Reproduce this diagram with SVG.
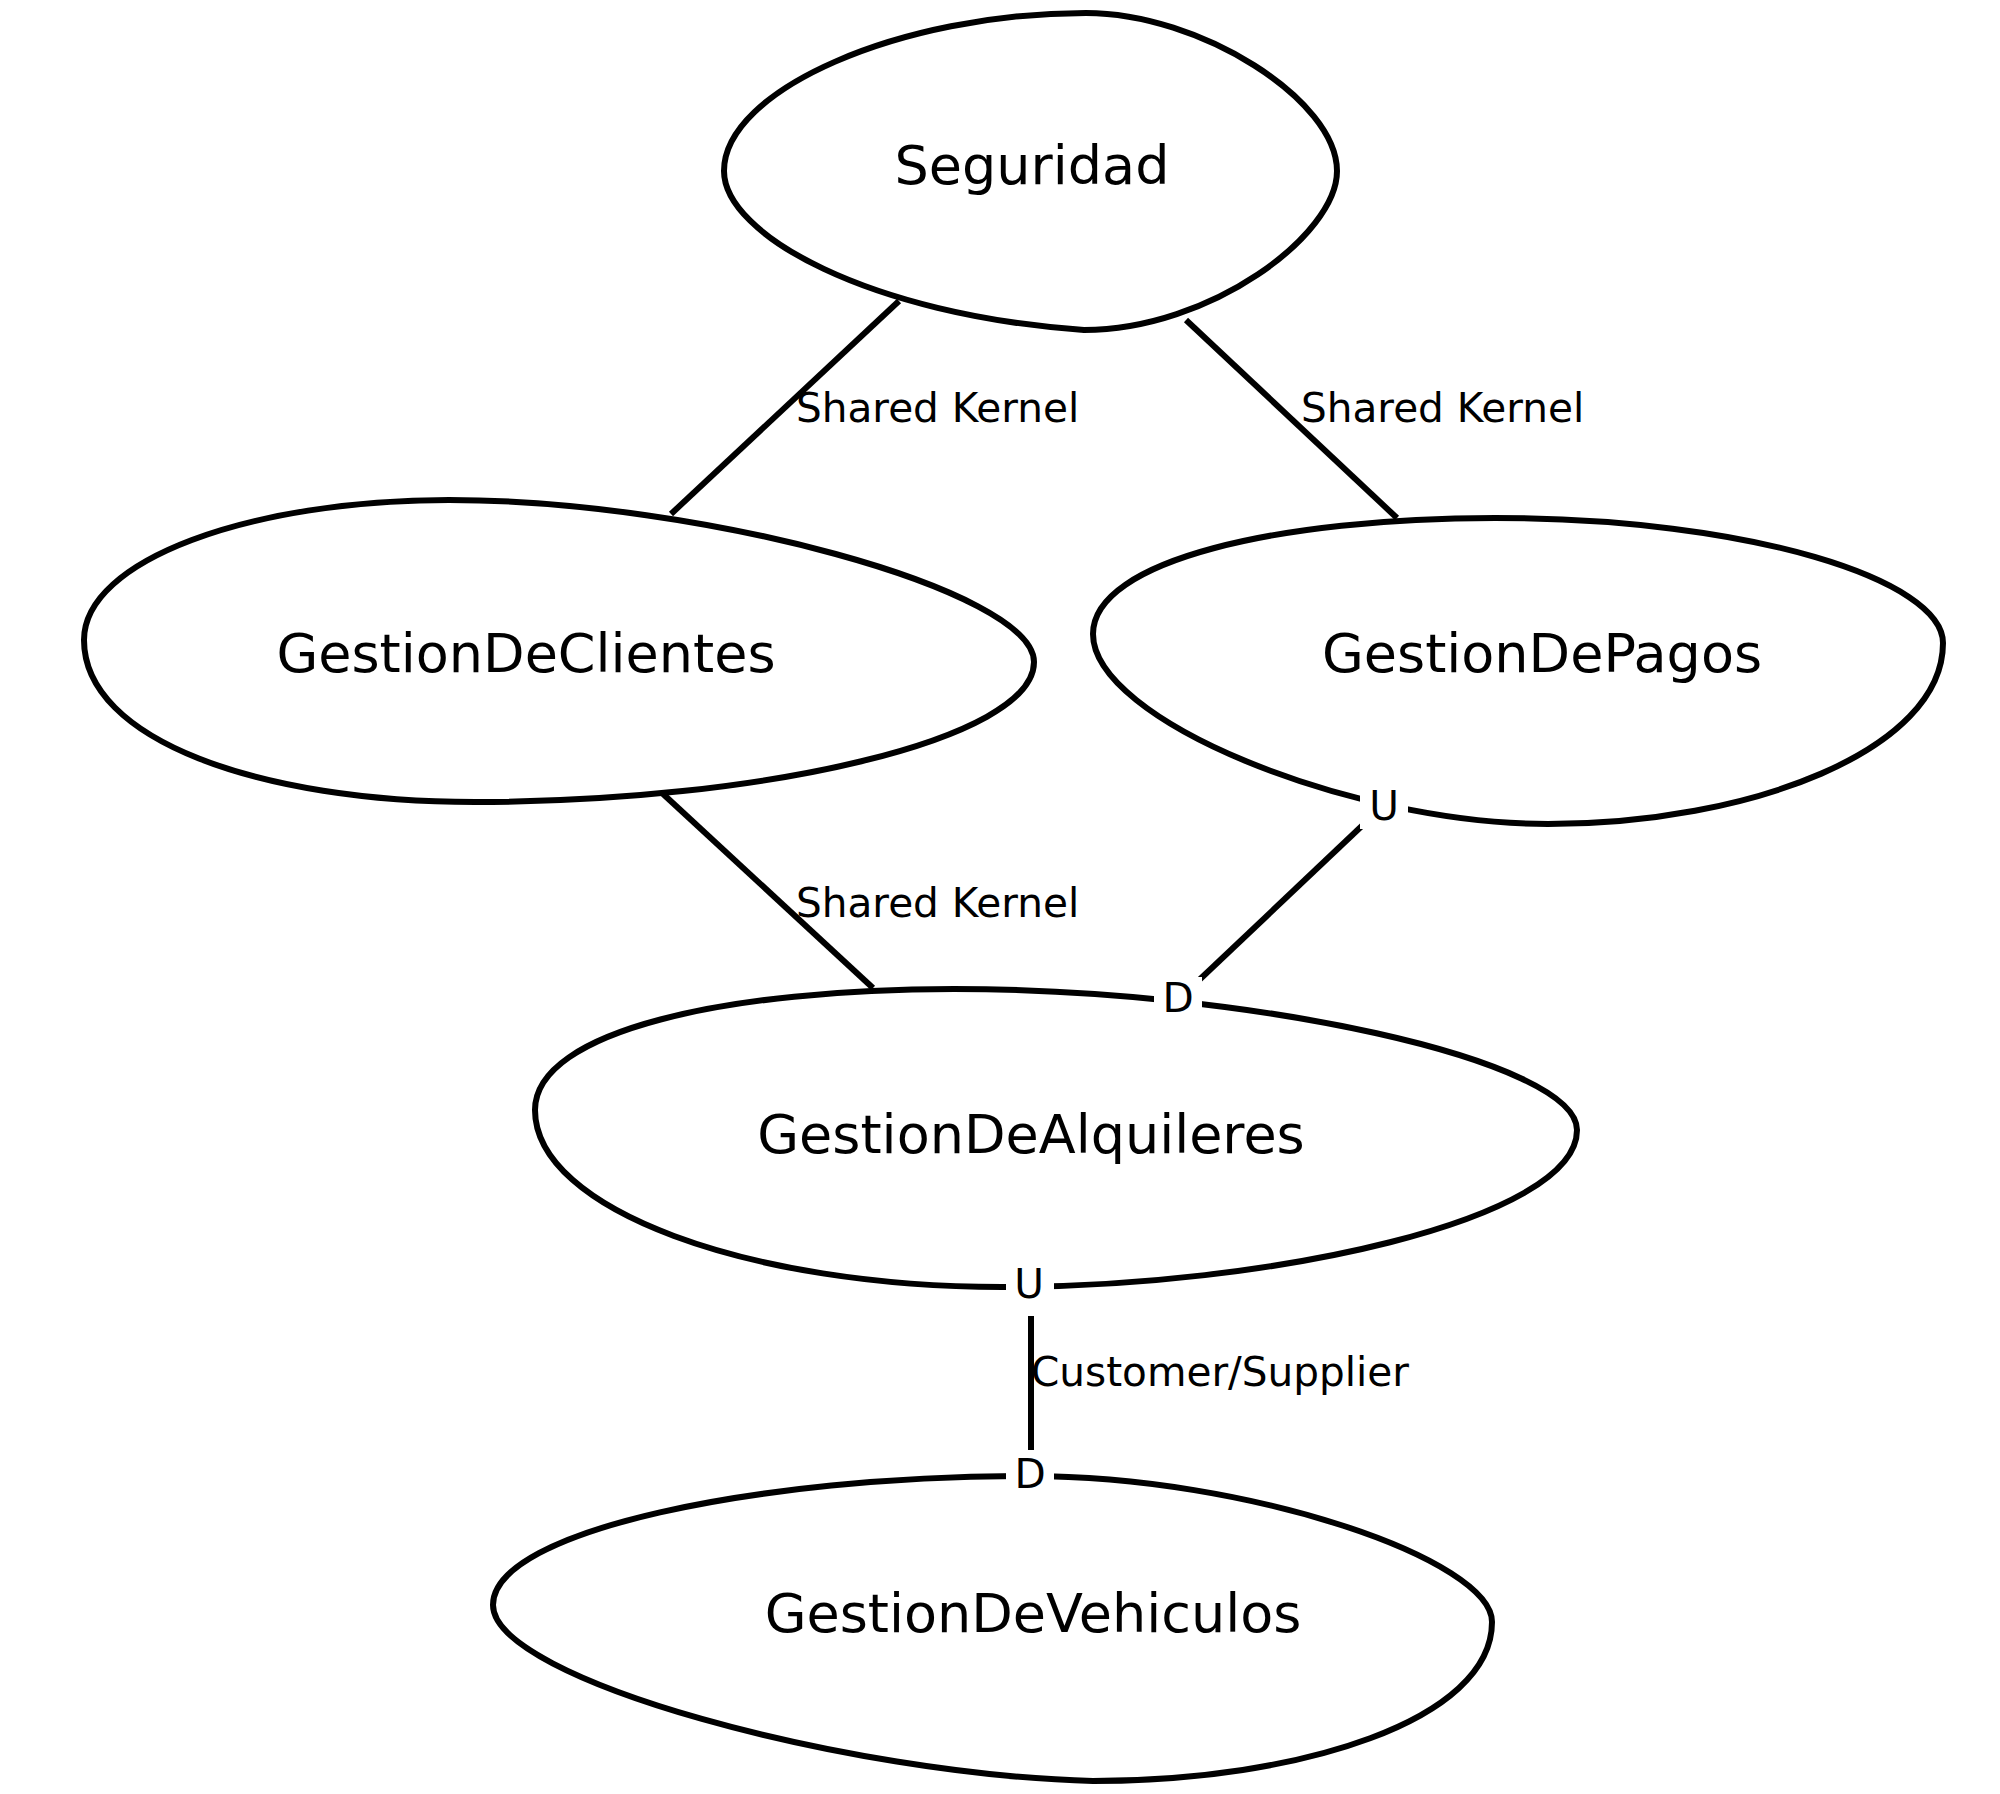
<svg xmlns="http://www.w3.org/2000/svg" width="2000" height="1794" viewBox="0 0 2000 1794">
<style>
.node{fill:none;stroke:#000;stroke-width:6}
.conn{stroke:#000;stroke-width:6;fill:none}
.nl{font-family:"DejaVu Sans",sans-serif;font-size:54px;text-anchor:middle;fill:#000}
.el{font-family:"DejaVu Sans",sans-serif;font-size:40.6px;fill:#000}
.ud{font-family:"DejaVu Sans",sans-serif;font-size:40.6px;text-anchor:middle;fill:#000}
.bg{fill:#fff;stroke:none}
</style>
<rect width="2000" height="1794" fill="#fff"/>
<g id="Seguridad">
<path class="node" d="M724,171 C724,90 900,13 1086,13 C1200,13 1337,100 1337,171 C1337,235 1210,330 1084,330 C870,315 724,235 724,171 Z"/>
<text class="nl" x="1032" y="184">Seguridad</text>
</g>
<g id="GestionDeClientes">
<path class="node" d="M84,640 C84,560 250,500 449,500 C700,500 1034,590 1034,662 C1034,740 760,802 475,802 C260,802 84,740 84,640 Z"/>
<text class="nl" x="526" y="672">GestionDeClientes</text>
</g>
<g id="GestionDePagos">
<path class="node" d="M1093,634 C1093,560 1280,518 1495,518 C1750,518 1943,580 1943,643 C1943,750 1750,824 1548,824 C1350,824 1093,720 1093,634 Z"/>
<text class="nl" x="1542" y="672">GestionDePagos</text>
</g>
<g id="GestionDeAlquileres">
<path class="node" d="M535,1110 C535,1030 730,989 954,989 C1250,989 1577,1060 1577,1130 C1577,1220 1270,1287 1002,1287 C750,1287 535,1210 535,1110 Z"/>
<text class="nl" x="1031" y="1153">GestionDeAlquileres</text>
</g>
<g id="GestionDeVehiculos">
<path class="node" d="M493,1605 C493,1530 760,1476 1028,1476 C1250,1476 1492,1560 1492,1622 C1492,1720 1300,1781 1093,1781 C850,1775 493,1680 493,1605 Z"/>
<text class="nl" x="1033" y="1632">GestionDeVehiculos</text>
</g>
<g id="connectors">
<line class="conn" x1="899" y1="301" x2="671" y2="514"/>
<text class="el" x="796" y="422">Shared Kernel</text>
<line class="conn" x1="1186" y1="320" x2="1397" y2="518"/>
<text class="el" x="1301" y="422">Shared Kernel</text>
<line class="conn" x1="662" y1="793" x2="873" y2="988"/>
<text class="el" x="796" y="917">Shared Kernel</text>
<line class="conn" x1="1384" y1="805" x2="1178" y2="1000"/>
<rect class="bg" x="1360" y="783" width="48" height="46"/>
<text class="ud" x="1384" y="820">U</text>
<rect class="bg" x="1154" y="977" width="48" height="44"/>
<text class="ud" x="1178" y="1012">D</text>
<line class="conn" x1="1031" y1="1286" x2="1031" y2="1476"/>
<rect class="bg" x="1006" y="1262" width="48" height="54"/>
<text class="ud" x="1029" y="1298">U</text>
<rect class="bg" x="1006" y="1450" width="48" height="46"/>
<text class="ud" x="1030" y="1488">D</text>
<text class="el" x="1031" y="1386">Customer/Supplier</text>
</g>
</svg>
